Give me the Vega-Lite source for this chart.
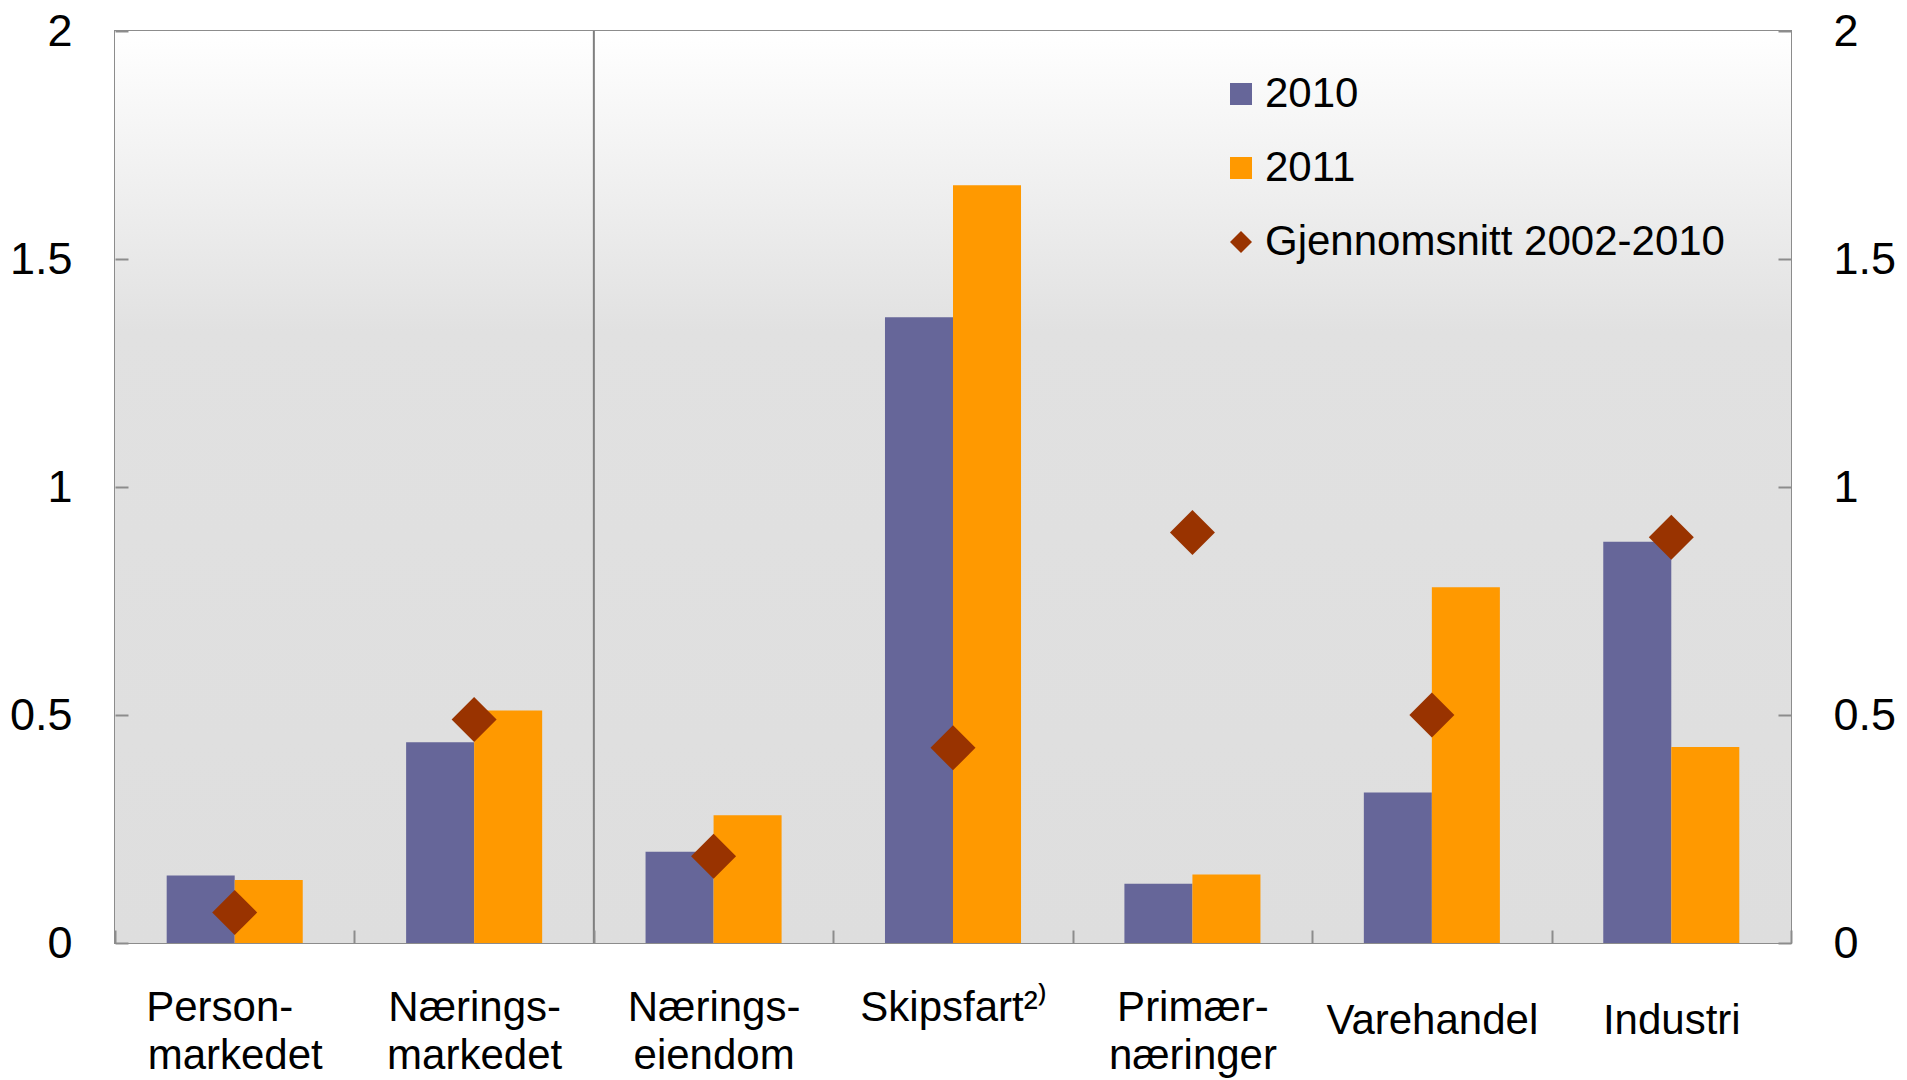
{
  "$schema": "https://vega.github.io/schema/vega-lite/v6.json",
  "width": 1676,
  "height": 912,
  "autosize": {"type": "none"},
  "padding": {"left": 115, "top": 31, "right": 116, "bottom": 137},
  "background": "#FFFFFF",
  "config": {
    "font": "Liberation Sans",
    "view": {"stroke": "#8C8C8C", "strokeWidth": 2},
    "axis": {"grid": false, "domain": false, "ticks": true, "tickColor": "#8C8C8C", "tickWidth": 2, "labelColor": "#000000", "labelFont": "Liberation Sans", "labelOverlap": false, "labelFlush": false, "labelBound": false, "labelLimit": 0}
  },
  "datasets": {
    "vals": [
      {"cat": "Personmarkedet", "series": "2010", "value": 0.148},
      {"cat": "Personmarkedet", "series": "2011", "value": 0.138},
      {"cat": "Personmarkedet", "series": "Gjennomsnitt 2002-2010", "value": 0.067},
      {"cat": "Næringsmarkedet", "series": "2010", "value": 0.44},
      {"cat": "Næringsmarkedet", "series": "2011", "value": 0.51},
      {"cat": "Næringsmarkedet", "series": "Gjennomsnitt 2002-2010", "value": 0.49},
      {"cat": "Næringseiendom", "series": "2010", "value": 0.2},
      {"cat": "Næringseiendom", "series": "2011", "value": 0.28},
      {"cat": "Næringseiendom", "series": "Gjennomsnitt 2002-2010", "value": 0.19},
      {"cat": "Skipsfart", "series": "2010", "value": 1.372},
      {"cat": "Skipsfart", "series": "2011", "value": 1.662},
      {"cat": "Skipsfart", "series": "Gjennomsnitt 2002-2010", "value": 0.428},
      {"cat": "Primærnæringer", "series": "2010", "value": 0.13},
      {"cat": "Primærnæringer", "series": "2011", "value": 0.15},
      {"cat": "Primærnæringer", "series": "Gjennomsnitt 2002-2010", "value": 0.9},
      {"cat": "Varehandel", "series": "2010", "value": 0.33},
      {"cat": "Varehandel", "series": "2011", "value": 0.78},
      {"cat": "Varehandel", "series": "Gjennomsnitt 2002-2010", "value": 0.5},
      {"cat": "Industri", "series": "2010", "value": 0.88},
      {"cat": "Industri", "series": "2011", "value": 0.43},
      {"cat": "Industri", "series": "Gjennomsnitt 2002-2010", "value": 0.89}
    ]
  },
  "data": {"name": "vals"},
  "resolve": {"axis": {"y": "independent"}},
  "layer": [
    {
      "data": {"values": [{}]},
      "mark": {"type": "rect", "color": {"gradient": "linear", "x1": 0, "y1": 0, "x2": 0, "y2": 1, "stops": [{"offset": 0, "color": "#FFFFFF"}, {"offset": 0.33, "color": "#E1E1E1"}, {"offset": 1, "color": "#DEDEDE"}]}},
      "encoding": {"x": {"value": 0}, "x2": {"value": "width"}, "y": {"value": 0}, "y2": {"value": "height"}}
    },
    {
      "transform": [{"filter": "datum.series != 'Gjennomsnitt 2002-2010'"}],
      "mark": {"type": "bar"},
      "encoding": {
        "x": {
          "field": "cat", "type": "nominal", "title": null,
          "scale": {"domain": ["Personmarkedet", "Næringsmarkedet", "Næringseiendom", "Skipsfart", "Primærnæringer", "Varehandel", "Industri"], "paddingInner": 0, "paddingOuter": 0},
          "axis": {
            "orient": "bottom", "zindex": 2, "offset": -13, "labelAngle": 0, "tickBand": "extent", "tickSize": 13,
            "labelFontSize": 42, "labelLineHeight": 48, "labelAlign": "center", "labelPadding": 77,
            "labelBaseline": {"condition": {"test": "datum.value == 'Varehandel' || datum.value == 'Industri'", "value": "middle"}, "value": "alphabetic"},
            "labelExpr": "datum.value == 'Personmarkedet' ? ['Person-\u2800', 'markedet'] : datum.value == 'Næringsmarkedet' ? ['Nærings-', 'markedet'] : datum.value == 'Næringseiendom' ? ['Nærings-', 'eiendom'] : datum.value == 'Skipsfart' ? 'Skipsfart²⁾' : datum.value == 'Primærnæringer' ? ['Primær-', 'næringer'] : datum.value"
          }
        },
        "xOffset": {"field": "series", "type": "nominal", "scale": {"domain": ["2010", "2011"], "paddingInner": 0, "paddingOuter": 0.76}},
        "y": {
          "field": "value", "type": "quantitative", "title": null,
          "scale": {"domain": [0, 2], "nice": false},
          "axis": {"orient": "left", "zindex": 2, "offset": -13, "values": [0, 0.5, 1, 1.5, 2], "format": "~g", "tickSize": 13, "labelPadding": 43, "labelFontSize": 45, "labelBaseline": "middle"}
        },
        "color": {
          "field": "series", "type": "nominal",
          "scale": {"domain": ["2010", "2011", "Gjennomsnitt 2002-2010"], "range": ["#666699", "#FF9900", "#993300"]},
          "legend": {"orient": "none", "legendX": 1105, "legendY": 42, "title": null, "padding": 0, "symbolSize": 484, "symbolStrokeWidth": 0, "labelFontSize": 42, "labelFont": "Liberation Sans", "labelColor": "#000000", "labelOffset": 3, "rowPadding": 32, "labelLimit": 0}
        }
      }
    },
    {
      "data": {"values": [{"cat": "Næringseiendom"}]},
      "mark": {"type": "rule", "color": "#7F7F7F", "strokeWidth": 2},
      "encoding": {"x": {"field": "cat", "type": "nominal", "bandPosition": 0, "title": null}}
    },
    {
      "transform": [{"filter": "datum.series == 'Gjennomsnitt 2002-2010'"}],
      "mark": {"type": "point", "filled": true, "opacity": 1, "size": 2025},
      "encoding": {
        "x": {"field": "cat", "type": "nominal", "title": null},
        "y": {
          "field": "value", "type": "quantitative", "title": null,
          "scale": {"domain": [0, 2], "nice": false},
          "axis": {"orient": "right", "zindex": 2, "offset": -13, "values": [0, 0.5, 1, 1.5, 2], "format": "~g", "tickSize": 13, "labelPadding": 42, "labelFontSize": 45, "labelBaseline": "middle"}
        },
        "color": {"field": "series", "type": "nominal"},
        "shape": {"field": "series", "type": "nominal", "scale": {"domain": ["2010", "2011", "Gjennomsnitt 2002-2010"], "range": ["square", "square", "diamond"]}}
      }
    }
  ]
}
